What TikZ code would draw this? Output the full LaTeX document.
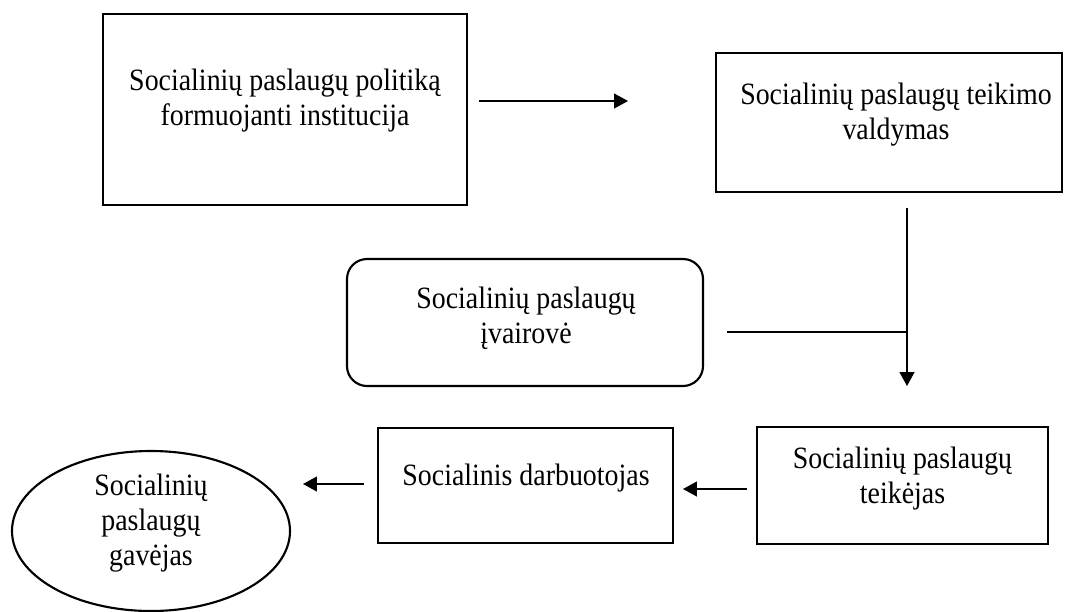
\documentclass[tikz,border=0pt]{standalone}
\usepackage{fontspec}
\setmainfont{Liberation Serif}[FakeStretch=0.9]
\usetikzlibrary{arrows.meta,shapes.geometric}
\begin{document}
\begin{tikzpicture}[x=0.75pt, y=-0.75pt, line width=1.6pt, >={Triangle[length=10.5pt, width=11pt]},
	box/.style={draw, rectangle, inner sep=0pt},
	txt/.style={align=center, inner sep=0pt, font=\fontsize{23.25}{26.25}\selectfont}]
	\useasboundingbox (0,0) rectangle (1067,611);
	\node[box, minimum width=273pt, minimum height=143.25pt] (polit) at (285,109.5) {};
	\node[box, minimum width=259.5pt, minimum height=104.25pt] (valdym) at (889,122.5) {};
	\node[box, rounded corners=15pt, minimum width=267pt, minimum height=95.25pt] (ivair) at (525,322.5) {};
	\node[box, minimum width=218.25pt, minimum height=87.75pt] (teik) at (902.5,485.5) {};
	\node[box, minimum width=221.25pt, minimum height=86.25pt] (darb) at (525.5,485.5) {};
	\node[draw, ellipse, inner sep=0pt, minimum width=208.5pt, minimum height=120pt] (gavej) at (151,531) {};
	\node[txt] (politT) at (285,101) {Socialinių paslaugų politiką\\formuojanti institucija};
	\node[txt] (valdymT) at (896,115) {Socialinių paslaugų teikimo\\valdymas};
	\node[txt] (ivairT) at (526,318) {Socialinių paslaugų\\įvairovė};
	\node[txt] (teikT) at (902.5,479) {Socialinių paslaugų\\teikėjas};
	\node[txt] (darbT) at (526,478) {Socialinis darbuotojas};
	\node[txt] (gavejT) at (151,523) {Socialinių\\paslaugų\\gavėjas};
	\draw[->] (polit.east) ++(11,-8.5) -- ++(149,0);
	\draw[->] (valdym.south) ++(18,15) coordinate (down) -- ++(0,178);
	\draw (ivair.east) ++(23,9.5) coordinate (side) -- (side -| down);
	\draw[->] (teik.west) ++(-9,3.5) -- ++(-64,0);
	\draw[->] (darb.west) ++(-13,-1.5) -- ++(-61,0);
\end{tikzpicture}
\end{document}
